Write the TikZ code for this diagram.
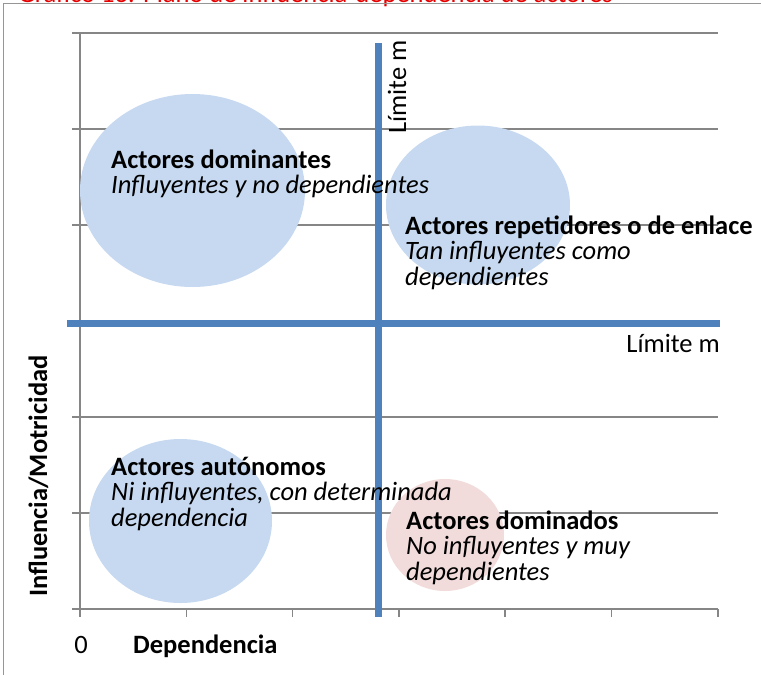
\documentclass[tikz,border=0pt]{standalone}
\usepackage{fontspec}
\setmainfont{Carlito}
\usetikzlibrary{shapes.geometric}

\definecolor{gris}{RGB}{134,134,134}
\definecolor{grismarco}{RGB}{150,150,150}
\definecolor{azullimite}{RGB}{79,129,189}
\definecolor{azulburbuja}{RGB}{198,217,240}
\definecolor{rosaburbuja}{RGB}{242,220,219}
\definecolor{rojotitulo}{RGB}{230,0,0}

\begin{document}
\begin{tikzpicture}[x=1pt, y=-1pt,
    rejilla/.style={draw=gris, line width=1.5pt},
    marco/.style={draw=grismarco, line width=1.5pt},
    limite/.style={draw=azullimite, line width=7pt},
    burbuja/.style={ellipse, draw=none, inner sep=0pt},
    etiqueta/.style={anchor=base west, inner sep=0pt, align=left,
        font=\fontsize{26.5}{25.5}\selectfont},
    rotulo/.style={inner sep=0pt, font=\fontsize{26.5}{25.5}\selectfont}]
    \useasboundingbox (0,0) rectangle (761,675);
    \clip (0,0) rectangle (761,675);

    % Titulo (cortado arriba) y marco
    \node[rotulo, anchor=base west, text=rojotitulo] (titulo) at (18,2)
        {Gráfico 13: Plano de influencia-dependencia de actores};
    \draw[marco] (3.5,675) -- (3.5,3.5) -- (761,3.5);

    % Rejilla y ejes
    \foreach \y in {33, 129, 225, 321, 417, 513, 609} {
            \draw[rejilla] (72,\y) -- (718,\y);
        }
    \draw[rejilla] (80,33) -- (80,617);
    \foreach \i in {0, 1, ..., 6} {
            \draw[rejilla] ({80+106.3*\i},609) -- ++(0,8);
        }

    % Burbujas
    \node[burbuja, fill=azulburbuja, minimum width=225pt, minimum height=193pt]
        (dominantes) at (192.5,190.5) {};
    \node[burbuja, fill=azulburbuja, minimum width=184pt, minimum height=159pt]
        (enlace) at (478,205) {};
    \node[burbuja, fill=azulburbuja, minimum width=183pt, minimum height=164pt]
        (autonomos) at (180.5,521) {};
    \node[burbuja, fill=rosaburbuja, minimum width=118pt, minimum height=112pt]
        (dominados) at (445,535) {};

    % Limites m
    \coordinate (limizq) at (67,323);
    \coordinate (limder) at (720,323);
    \coordinate (limsup) at (378,43);
    \coordinate (liminf) at (378,617);
    \draw[limite] (limizq) -- (limder);
    \draw[limite] (limsup) -- (liminf);
    \node[rotulo, anchor=base west, rotate=90] (limvert) at (406,134) {Límite m};
    \node[rotulo, anchor=base east] (limhoriz) at (720,352) {Límite m};

    % Textos de los cuadrantes (base = ultima linea)
    \node[etiqueta] (txtdominantes) at (111,193.5)
        {\textbf{Actores dominantes}\\\textit{Influyentes y no dependientes}};
    \node[etiqueta] (txtenlace) at (405,285)
        {\textbf{Actores repetidores o de enlace}\\\textit{Tan influyentes como}\\\textit{dependientes}};
    \node[etiqueta] (txtautonomos) at (111,526)
        {\textbf{Actores autónomos}\\\textit{Ni influyentes, con determinada}\\\textit{dependencia}};
    \node[etiqueta] (txtdominados) at (406,580)
        {\textbf{Actores dominados}\\\textit{No influyentes y muy}\\\textit{dependientes}};

    % Ejes: rotulos
    \node[rotulo, anchor=base] (cero) at (81,653) {0};
    \node[rotulo, anchor=base west, font=\fontsize{26.5}{25.5}\selectfont\bfseries]
        (dependencia) at (133,653) {Dependencia};
    \node[rotulo, anchor=base west, rotate=90, font=\fontsize{26.5}{25.5}\selectfont\bfseries]
        (influencia) at (47,597) {Influencia/Motricidad};
\end{tikzpicture}
\end{document}
